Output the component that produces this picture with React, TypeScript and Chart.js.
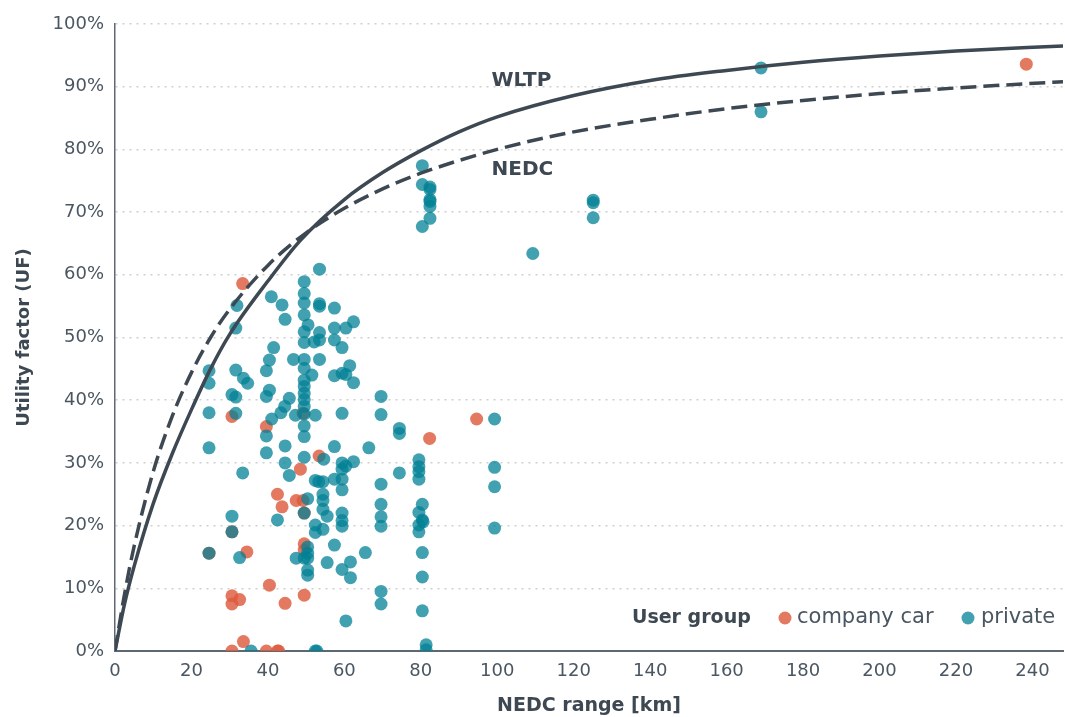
import React, { useEffect, useRef } from "react";
import { Chart, registerables } from "chart.js";

Chart.register(...registerables);

const FONT = '"DejaVu Sans", sans-serif';
const TEXT_COLOR = "#4a5661";
const DARK = "#3d4852";

// Curves: [NEDC range km, utility factor %]
const wltpCurve: [number, number][] = [
  [0, 0], [2.5, 7.5], [5, 13.5], [10, 23.5], [15, 31.5], [20, 38.5], [25, 45],
  [30, 50.5], [40, 59], [48.5, 65.5], [60, 72], [70, 76.3], [80, 79.8], [90, 82.8],
  [100, 85.2], [120, 88.6], [140, 91.0], [160, 92.6], [180, 93.9], [200, 94.9],
  [220, 95.7], [248, 96.5],
];

const nedcCurve: [number, number][] = [
  [0, 0], [2.5, 9.1], [5, 16.7], [10, 28.6], [15, 37.5], [20, 44.4], [25, 50],
  [30, 54.5], [40, 61.5], [50, 66.7], [60, 70.6], [70, 73.7], [80, 76.2], [100, 80],
  [120, 82.8], [140, 84.8], [160, 86.5], [180, 87.8], [200, 88.9], [220, 89.8],
  [248, 90.8],
];

// Scatter: user group "company car"
const companyCar: [number, number][] = [
  [33.4, 58.6], [30.6, 37.4], [39.6, 35.8], [49.2, 37.9], [53.4, 31.1], [48.5, 29],
  [42.5, 25], [43.7, 23], [47.4, 24], [49.2, 24], [49.5, 22], [30.6, 19], [24.6, 15.6],
  [34.5, 15.8], [49.5, 17.1], [49.5, 16.1], [40.4, 10.5], [30.6, 8.8], [32.6, 8.2],
  [30.6, 7.5], [44.5, 7.6], [49.5, 8.9], [33.6, 1.5], [30.6, 0], [39.6, 0], [42.5, 0],
  [42.8, 0], [82.3, 33.9], [94.6, 37], [238.4, 93.6],
];

// Scatter: user group "private"
const privateCar: [number, number][] = [
  [24.6, 44.7], [24.6, 42.7], [24.6, 38], [24.6, 32.4], [24.6, 15.6],
  [31.9, 55.1], [31.6, 51.5], [31.6, 44.8], [30.6, 40.9], [31.6, 40.5], [31.6, 37.9],
  [30.6, 21.5], [30.6, 19],
  [33.6, 43.5], [34.7, 42.7], [33.4, 28.4], [32.6, 14.9], [35.6, 0],
  [40.9, 56.5], [41.5, 48.4], [40.4, 46.4], [39.6, 44.7], [40.4, 41.6], [39.6, 40.6],
  [41, 37], [39.6, 34.3], [39.6, 31.6], [42.5, 20.9],
  [43.7, 55.2], [44.5, 52.9], [45.6, 40.3], [44.4, 39], [43.4, 38], [44.5, 32.7],
  [44.5, 30], [45.6, 28], [46.7, 46.5], [47.2, 37.6],
  [49.5, 58.9], [49.5, 57], [49.5, 55.5], [49.5, 53.6], [49.5, 50.9], [49.5, 49.2],
  [49.5, 46.5], [49.5, 45.1], [49.5, 43.2], [49.5, 42.2], [49.5, 41.1], [49.5, 40.1],
  [49.5, 39], [49.5, 37.8], [49.5, 35.9], [49.5, 34.2], [49.5, 30.9], [49.5, 22],
  [49.5, 14.8], [47.4, 14.8],
  [50.5, 52], [51.5, 44], [50.4, 24.3], [50.4, 16.6], [50.4, 15.6], [50.4, 14.8],
  [50.4, 12.9], [50.4, 12.1],
  [53.5, 60.9], [53.5, 55.4], [53.5, 55], [53.5, 50.8], [53.5, 49.6], [52.1, 49.3],
  [53.5, 46.5], [52.4, 37.6], [54.6, 30.6], [52.4, 27.2], [53.3, 27], [54.4, 27],
  [54.4, 25], [54.4, 24], [54.4, 22.6], [52.4, 20.1], [52.4, 18.9], [54.4, 19.4],
  [52.4, 0], [52.8, 0],
  [55.5, 21.5], [55.5, 14.1], [57.4, 54.7], [57.4, 51.5], [57.4, 49.6], [57.4, 43.9],
  [57.4, 32.6], [57.4, 27.4], [57.4, 16.9],
  [59.4, 48.4], [59.4, 44.3], [60.4, 44.1], [60.4, 51.5], [61.4, 45.5], [62.4, 52.5],
  [62.4, 42.8], [59.4, 37.9], [59.4, 30], [59.4, 29], [60.4, 29.5], [62.4, 30.2],
  [59.4, 27.4], [59.4, 25.7], [59.4, 22], [59.4, 20.8], [59.4, 19.9], [61.6, 14.2],
  [59.4, 13], [61.6, 11.7], [60.4, 4.8],
  [66.4, 32.4], [65.5, 15.7], [69.6, 40.6], [69.6, 37.7], [69.6, 26.6], [69.6, 23.4],
  [69.6, 21.4], [69.6, 19.9], [69.6, 9.5], [69.6, 7.5],
  [74.4, 35.5], [74.4, 34.7], [74.4, 28.4],
  [79.5, 30.5], [79.5, 29.4], [79.5, 28.6], [79.5, 27.4], [80.4, 23.4], [79.5, 22.1],
  [80.4, 20.9], [80.6, 20.6], [79.5, 20.1], [79.5, 19], [80.4, 15.7], [80.4, 11.8],
  [80.4, 6.4], [81.4, 1], [81.4, 0.2],
  [80.4, 77.4], [80.4, 74.4], [82.4, 74], [82.4, 73.6], [82.4, 72], [82.4, 71.7],
  [82.4, 70.9], [82.4, 69], [80.4, 67.7],
  [99.3, 37], [99.3, 29.3], [99.3, 26.2], [99.3, 19.6], [109.3, 63.4],
  [125.1, 71.9], [125.1, 71.5], [125.1, 69.1], [169, 93], [169, 86],
];

const curveLabels = [
  { text: "WLTP", x: 98.5, y: 91 },
  { text: "NEDC", x: 98.5, y: 76.7 },
];

const COMPANY_COLOR = "rgba(222, 92, 62, 0.82)";
const PRIVATE_COLOR = "rgba(0, 128, 148, 0.74)";

const toPts = (arr: [number, number][]) => arr.map(([x, y]) => ({ x, y }));

const overlayPlugin = {
  id: "overlay",
  afterDatasetsDraw(chart: any) {
    const { ctx, scales } = chart;
    ctx.save();
    ctx.fillStyle = DARK;
    ctx.font = `bold 20px ${FONT}`;
    ctx.textBaseline = "middle";
    ctx.textAlign = "left";
    for (const l of curveLabels) {
      ctx.fillText(l.text, scales.x.getPixelForValue(l.x), scales.y.getPixelForValue(l.y));
    }
    // legend
    const ly = 618;
    ctx.font = `bold 19px ${FONT}`;
    ctx.fillText("User group", 632, ly);
    ctx.font = `21px ${FONT}`;
    ctx.fillStyle = COMPANY_COLOR;
    ctx.beginPath();
    ctx.arc(785, ly, 6.5, 0, Math.PI * 2);
    ctx.fill();
    ctx.fillStyle = TEXT_COLOR;
    ctx.fillText("company car", 797, ly);
    ctx.fillStyle = PRIVATE_COLOR;
    ctx.beginPath();
    ctx.arc(968, ly, 6.5, 0, Math.PI * 2);
    ctx.fill();
    ctx.fillStyle = TEXT_COLOR;
    ctx.fillText("private", 981, ly);
    ctx.restore();
  },
};

export default function App() {
  const ref = useRef<HTMLCanvasElement>(null);

  useEffect(() => {
    if (!ref.current) return;
    const chart = new Chart(ref.current, {
      type: "scatter",
      data: {
        datasets: [
          {
            label: "WLTP",
            data: toPts(wltpCurve),
            showLine: true,
            borderColor: DARK,
            borderWidth: 3.5,
            pointRadius: 0,
            cubicInterpolationMode: "monotone",
            fill: false,
          } as any,
          {
            label: "NEDC",
            data: toPts(nedcCurve),
            showLine: true,
            borderColor: DARK,
            borderWidth: 3.5,
            borderDash: [16, 7],
            pointRadius: 0,
            cubicInterpolationMode: "monotone",
            fill: false,
          } as any,
          {
            label: "private",
            data: toPts(privateCar),
            backgroundColor: PRIVATE_COLOR,
            borderWidth: 0,
            pointRadius: 6.5,
          },
          {
            label: "company car",
            data: toPts(companyCar),
            backgroundColor: COMPANY_COLOR,
            borderWidth: 0,
            pointRadius: 6.5,
          },
        ],
      },
      options: {
        responsive: false,
        animation: false,
        layout: { autoPadding: false, padding: { top: 24, right: 2, left: 0, bottom: 0 } },
        plugins: { legend: { display: false }, tooltip: { enabled: false } },
        scales: {
          x: {
            type: "linear",
            min: 0,
            max: 248,
            afterFit: (s: any) => {
              s.height = 66;
              s.paddingRight = 0;
              s.paddingLeft = 0;
            },
            ticks: {
              stepSize: 20,
              includeBounds: false,
              autoSkip: false,
              maxRotation: 0,
              padding: 10,
              color: TEXT_COLOR,
              font: { family: FONT, size: 18 },
            },
            grid: { display: false, drawTicks: false },
            border: { display: true, color: "#5d6872", width: 2 },
            title: {
              display: true,
              text: "NEDC range [km]",
              color: DARK,
              font: { family: FONT, size: 19, weight: "bold" },
              padding: { top: 0, bottom: 0 },
            },
          },
          y: {
            type: "linear",
            min: 0,
            max: 100,
            afterFit: (s: any) => {
              s.width = 115;
            },
            ticks: {
              stepSize: 10,
              padding: 11,
              color: TEXT_COLOR,
              font: { family: FONT, size: 18 },
              callback: (v: any) => `${v}%`,
            },
            grid: { color: "#cfcfcf", lineWidth: 1.5, drawTicks: false },
            border: { display: true, color: "#5d6872", width: 1.5, dash: [2, 5] },
            title: {
              display: true,
              text: "Utility factor (UF)",
              color: DARK,
              font: { family: FONT, size: 18, weight: "bold" },
              padding: { top: 14, bottom: 0 },
            },
          },
        },
      },
      plugins: [overlayPlugin],
    });
    return () => chart.destroy();
  }, []);

  return (
    <div style={{ position: "absolute", left: 0, top: 0, width: 1065, height: 717, background: "#fff" }}>
      <canvas ref={ref} width={1065} height={717} />
    </div>
  );
}
